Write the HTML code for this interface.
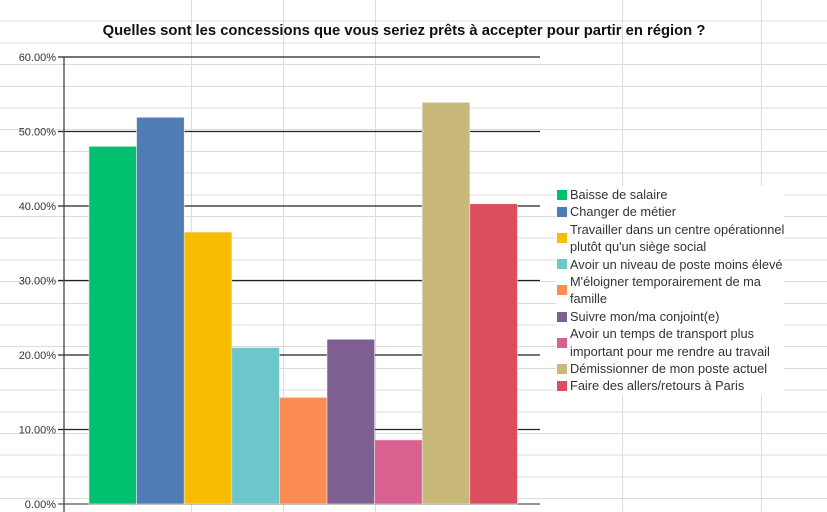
<!DOCTYPE html>
<html><head><meta charset="utf-8"><style>
body{margin:0;width:827px;height:512px;overflow:hidden;background:#fff;font-family:"Liberation Sans",sans-serif;}
#wrap{position:relative;width:827px;height:512px;
background-image:repeating-linear-gradient(to bottom,transparent 0,transparent 20.7px,#dcdcdc 20.7px,#dcdcdc 21.7px);}
.vl{position:absolute;top:0;width:1px;height:512px;background:#dcdcdc}
#title{position:absolute;left:0;width:808px;top:23px;text-align:center;font-weight:bold;font-size:14.8px;color:#111;white-space:nowrap}
#legend{position:absolute;left:556px;top:186px;font-size:12.8px;color:#333;line-height:17.4px;white-space:nowrap}
.li{position:relative;padding-left:14px;background:#fff}
.sw{position:absolute;left:1px;width:10px;height:10px;top:50%;margin-top:-5px}
</style></head><body>
<div id="wrap">
<div class="vl" style="left:191px"></div><div class="vl" style="left:283px"></div><div class="vl" style="left:375px"></div><div class="vl" style="left:622px"></div><div class="vl" style="left:761px"></div>
<div id="title">Quelles sont les concessions que vous seriez prêts à accepter pour partir en région ?</div>
<svg id="svg" width="827" height="512" style="position:absolute;left:0;top:0"></svg>
<div id="legend"></div>
</div>
<script>
const categories=["Baisse de salaire","Changer de métier","Travailler dans un centre opérationnel plutôt qu'un siège social","Avoir un niveau de poste moins élevé","M'éloigner temporairement de ma famille","Suivre mon/ma conjoint(e)","Avoir un temps de transport plus important pour me rendre au travail","Démissionner de mon poste actuel","Faire des allers/retours à Paris"];
const legendLines=[["Baisse de salaire"],["Changer de métier"],["Travailler dans un centre opérationnel","plutôt qu'un siège social"],["Avoir un niveau de poste moins élevé"],["M'éloigner temporairement de ma","famille"],["Suivre mon/ma conjoint(e)"],["Avoir un temps de transport plus","important pour me rendre au travail"],["Démissionner de mon poste actuel"],["Faire des allers/retours à Paris"]];
const values=[48.0,51.9,36.5,21.0,14.3,22.1,8.6,53.9,40.3];
const colors=["#00bf6f","#4f7cb5","#f8bd00","#6cc7cb","#fd8c52","#7e5f92","#d9608f","#c8b87a","#dc4e5d"];
const ticks=[0,10,20,30,40,50,60];
const NS="http://www.w3.org/2000/svg",svg=document.getElementById('svg');
const x0=64,x1=540,yB=504,yT=57,yMax=60;
const y=v=>yB-(v/yMax)*(yB-yT);
const barX=i=>89+i*47.6,bw=47.6;
function mk(t,a){const e=document.createElementNS(NS,t);for(const k in a)e.setAttribute(k,a[k]);svg.appendChild(e);return e;}
ticks.forEach(t=>{
 const g=mk('line',{x1:x0-6,x2:x1,y1:y(t),y2:y(t),stroke:t===0?'#555':'#222','stroke-width':1.3});
 
 
 const tx=mk('text',{x:x0-8,y:y(t)+4,'text-anchor':'end','font-size':11,fill:'#333','font-family':'Liberation Sans, sans-serif'});
 tx.textContent=t.toFixed(2)+'%';
 
 
});
values.forEach((v,i)=>{
 const r=mk('rect',{x:barX(i),y:y(v),width:bw,height:yB-y(v),fill:colors[i],stroke:'#e8e8e8','stroke-width':0.6});
 
 
});
const ax=mk('line',{x1:x0,x2:x0,y1:yT,y2:512,stroke:'#444','stroke-width':1.3});


const lg=document.getElementById('legend');
categories.forEach((c,i)=>{
 const d=document.createElement('div');d.className='li';
 
 
 d.innerHTML='<span class="sw" style="background:'+colors[i]+'"></span>'+legendLines[i].join('<br>');
 d.title=c;
 lg.appendChild(d);
});
</script>
</body></html>
